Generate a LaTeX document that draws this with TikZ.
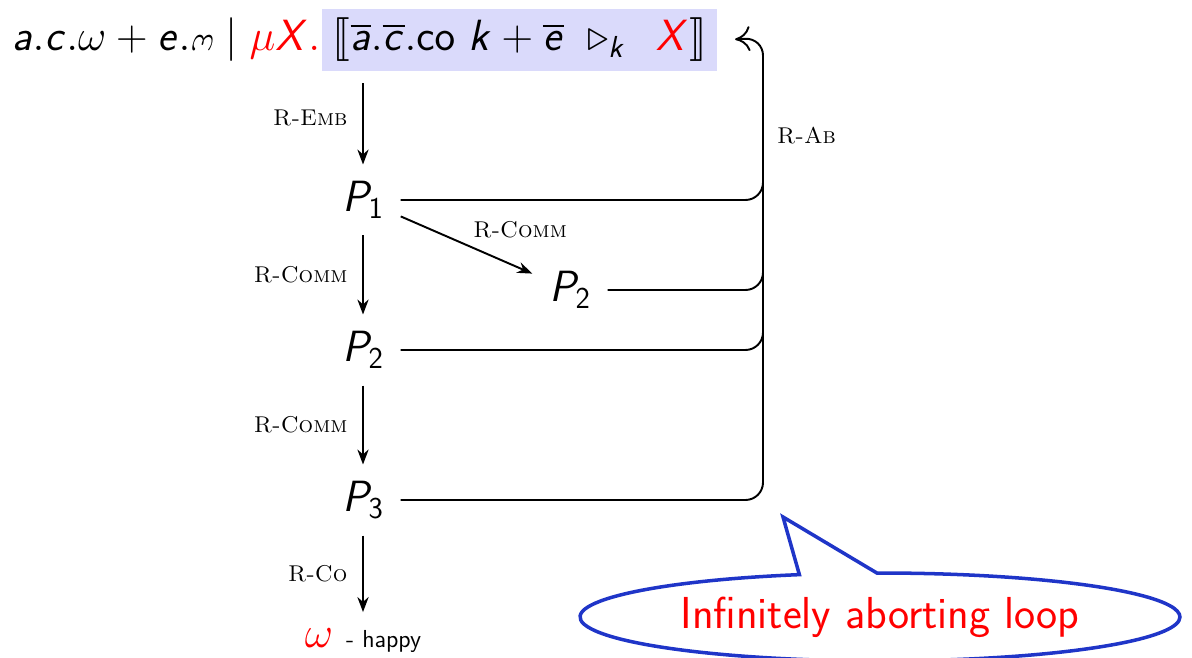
\documentclass[tikz,border=0pt]{standalone}
\usepackage{amsmath,amssymb}
\usepackage{stmaryrd}
\usepackage{graphicx}
\usepackage{xcolor}
\usetikzlibrary{arrows.meta,positioning,calc,shapes.callouts}
\definecolor{hlBlue}{HTML}{DADAFB}
\definecolor{noteBlue}{HTML}{1F35C8}
\DeclareMathAlphabet{\msi}{OT1}{cmss}{m}{sl}
\DeclareMathAlphabet{\msu}{OT1}{cmss}{m}{n}
\newcommand{\sadw}{\scalebox{0.8}{\rotatebox[origin=c]{180}{$\omega$}}}

\begin{document}
\begin{tikzpicture}[x=0.02cm, y=-0.02cm, >={Stealth[length=3mm]},
  proc/.style={font=\fontsize{24}{28}\selectfont\sffamily, inner sep=9.5pt},
  rule/.style={font=\fontsize{13}{15}\selectfont\rmfamily\scshape},
  arr/.style={->, line width=1.1pt},
  back/.style={line width=1.1pt, rounded corners=10pt}]
  \useasboundingbox (0,0) rectangle (1192,658);
  % start term
  \node[proc, inner sep=0pt, anchor=base west] (lhs) at (12,51)
    {$\msi{a}.\msi{c}.\omega + \msi{e}.\sadw \mid \textcolor{red}{\mu \msi{X}.}$};
  \node[proc, fill=hlBlue, inner xsep=6pt, inner ysep=5pt, anchor=base west] (body) at (322,51)
    {$\llbracket \overline{\msi{a}}.\overline{\msi{c}}.\msu{co}\ \msi{k} + \overline{\msi{e}}\ \triangleright_{\msi{k}}\ \,\textcolor{red}{\msi{X}} \rrbracket$};
  % reductions
  \node[proc] (p1) at (363,200) {$\msi{P}_{\msu{1}}$};
  \node[proc] (p2) at (363,350) {$\msi{P}_{\msu{2}}$};
  \node[proc] (p3) at (363,500) {$\msi{P}_{\msu{3}}$};
  \node[proc] (q2) at (570,290) {$\msi{P}_{\msu{2}}$};
  \node[proc] (happy) at (363,641) {$\textcolor{red}{\omega}$ {\fontsize{14}{16}\selectfont - happy}};
  \draw[arr, shorten <=7pt] (body.south -| p1) -- node[rule, left=5pt]{R-Emb} (p1);
  \draw[arr] (p1) -- node[rule, left=5pt]{R-Comm} (p2);
  \draw[arr] (p2) -- node[rule, left=5pt]{R-Comm} (p3);
  \draw[arr] (p3) -- node[rule, left=5pt]{R-Co} (happy);
  \draw[arr] (p1) -- node[rule, above right]{R-Comm} (q2);
  % abort loop
  \coordinate (loop) at (763,38);
  \draw[back, -{Computer Modern Rightarrow[length=3mm, width=5mm, line width=1.1pt]}, shorten >=10pt]
    (p3.east) -| (loop) -- (body.east);
  \draw[back] (p1.east) -| ($(p1.east -| loop)+(0,-14)$);
  \draw[back] (q2.east) -| ($(q2.east -| loop)+(0,-14)$);
  \draw[back] (p2.east) -| ($(p2.east -| loop)+(0,-14)$);
  \node[rule, anchor=west] (rab) at (771,136) {R-Ab};
  \node[ellipse callout, draw=noteBlue, line width=2pt, text=red,
    font=\fontsize{25.5}{29}\selectfont\sffamily, minimum width=12cm, minimum height=1.76cm,
    callout absolute pointer={(783,517)}] (note) at (880,617) {Infinitely aborting loop};
\end{tikzpicture}
\end{document}
